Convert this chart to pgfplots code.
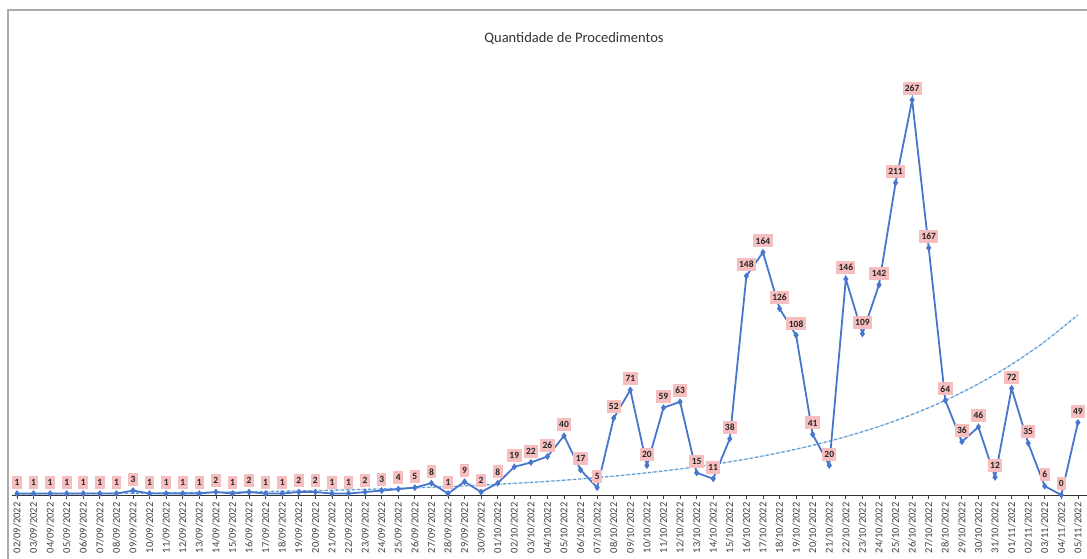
\documentclass[border=0pt]{standalone}
\usepackage{fontspec}
\setmainfont{Carlito}
\usepackage{pgfplots}
\pgfplotsset{compat=1.18}
\definecolor{lineblue}{RGB}{72,118,204}
\definecolor{trendblue}{RGB}{91,155,213}
\definecolor{lblpink}{RGB}{246,190,190}
\begin{document}
\begin{tikzpicture}[x=1pt,y=1pt]
\useasboundingbox (0,0) rectangle (1087,558);
\fill[white] (0,0) rectangle (1087,558);
\draw[gray!65, line width=1.6pt] (8,-2) -- (8,548) -- (1090,548);
\node[font=\fontsize{14.5}{14.5}\selectfont, text=black!80] at (574,520) {Quantidade de Procedimentos};
\begin{axis}[
  at={(12pt,63pt)}, anchor=south west,
  scale only axis, width=1075pt, height=435pt,
  xmin=-0.3, xmax=64.55, ymin=0, ymax=294,
  axis y line=none, axis x line*=bottom,
  x axis line style={-, black!80, line width=1pt},
  xtick={0,...,64},
  xticklabels={02/09/2022,03/09/2022,04/09/2022,05/09/2022,06/09/2022,07/09/2022,08/09/2022,09/09/2022,10/09/2022,11/09/2022,12/09/2022,13/09/2022,14/09/2022,15/09/2022,16/09/2022,17/09/2022,18/09/2022,19/09/2022,20/09/2022,21/09/2022,22/09/2022,23/09/2022,24/09/2022,25/09/2022,26/09/2022,27/09/2022,28/09/2022,29/09/2022,30/09/2022,01/10/2022,02/10/2022,03/10/2022,04/10/2022,05/10/2022,06/10/2022,07/10/2022,08/10/2022,09/10/2022,10/10/2022,11/10/2022,12/10/2022,13/10/2022,14/10/2022,15/10/2022,16/10/2022,17/10/2022,18/10/2022,19/10/2022,20/10/2022,21/10/2022,22/10/2022,23/10/2022,24/10/2022,25/10/2022,26/10/2022,27/10/2022,28/10/2022,29/10/2022,30/10/2022,31/10/2022,01/11/2022,02/11/2022,03/11/2022,04/11/2022,05/11/2022},
  x tick label style={rotate=90, anchor=east, font=\fontsize{10.5}{10.5}\selectfont, text=black!75},
  tick style={black!75, line width=0.8pt},
  major tick length=4pt,
  tick align=outside,
  /pgf/number format/assume math mode=true,
  clip=false,
]
\addplot[trendblue, densely dash dot, line width=1.3pt, smooth, no marks] coordinates {
(0,0.70) (2,0.82) (4,0.97) (6,1.14) (8,1.34) (10,1.57) (12,1.84) (14,2.17) (16,2.55) (18,2.99) (20,3.51) (22,4.13) (24,4.85) (26,5.70) (28,6.70) (30,7.87) (32,9.24) (34,10.86) (36,12.76) (38,14.99) (40,17.61) (42,20.69) (44,24.31) (46,28.56) (48,33.56) (50,39.43) (52,46.32) (54,54.42) (56,63.94) (58,75.12) (60,88.26) (62,103.7) (64,121.8)
};
\addplot[lineblue, line width=1.8pt, mark=diamond*, mark size=2pt,
  nodes near coords,
  every node near coord/.style={fill=lblpink, font=\bfseries\fontsize{9.5}{10}\selectfont, text=black!85, inner sep=2.4pt, minimum height=13pt, anchor=south, yshift=4pt}
] coordinates {
(0,1) (1,1) (2,1) (3,1) (4,1) (5,1) (6,1) (7,3) (8,1) (9,1) (10,1) (11,1) (12,2) (13,1) (14,2) (15,1) (16,1) (17,2) (18,2) (19,1) (20,1) (21,2) (22,3) (23,4) (24,5) (25,8) (26,1) (27,9) (28,2) (29,8) (30,19) (31,22) (32,26) (33,40) (34,17) (35,5) (36,52) (37,71) (38,20) (39,59) (40,63) (41,15) (42,11) (43,38) (44,148) (45,164) (46,126) (47,108) (48,41) (49,20) (50,146) (51,109) (52,142) (53,211) (54,267) (55,167) (56,64) (57,36) (58,46) (59,12) (60,72) (61,35) (62,6) (63,0) (64,49)
};
\end{axis}
\end{tikzpicture}
\end{document}
